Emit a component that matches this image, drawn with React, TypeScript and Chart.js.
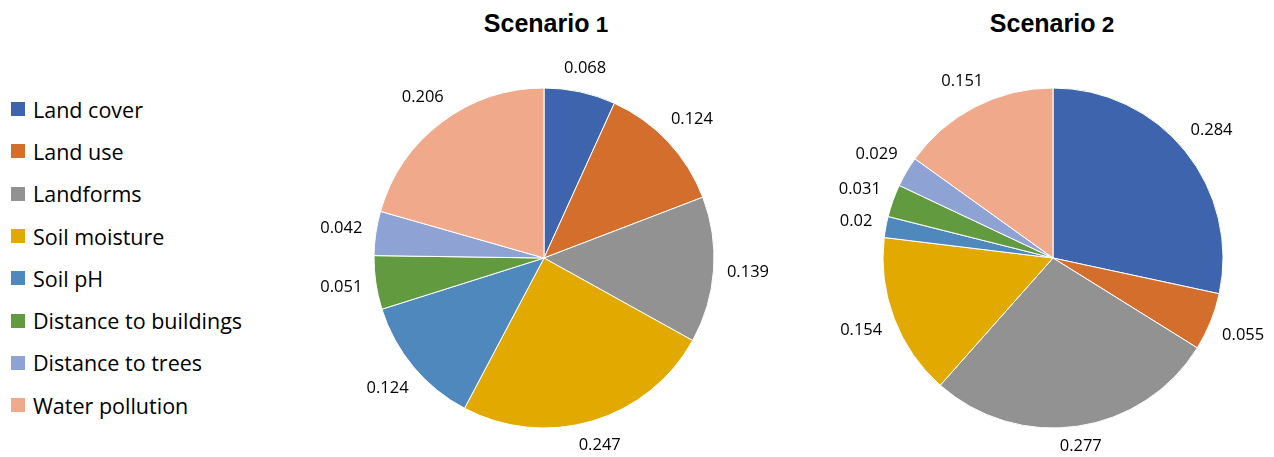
import React, { useEffect, useRef } from "react";
import { Chart, registerables } from "chart.js";

Chart.register(...registerables);

const categories = [
  "Land cover",
  "Land use",
  "Landforms",
  "Soil moisture",
  "Soil pH",
  "Distance to buildings",
  "Distance to trees",
  "Water pollution",
];
const scenario1Values = [0.068, 0.124, 0.139, 0.247, 0.124, 0.051, 0.042, 0.206];
const scenario2Values = [0.284, 0.055, 0.277, 0.154, 0.02, 0.031, 0.029, 0.151];
const scenarioNames = ["Scenario", "Scenario"];
const scenarioNumbers = ["1", "2"];
const sliceColors = [
  "#3D64AD",
  "#D46E2C",
  "#929292",
  "#E2AA00",
  "#4E88BC",
  "#629B3F",
  "#8FA2D4",
  "#F0A98B",
];

const LABEL_FONT = "16.5px 'Open Sans'";

const outsideLabels = {
  id: "outsideLabels",
  afterDatasetsDraw(chart: any) {
    const ctx = chart.ctx;
    const meta = chart.getDatasetMeta(0);
    const values = chart.data.datasets[0].data;
    ctx.save();
    ctx.font = LABEL_FONT;
    ctx.fillStyle = "#000";
    ctx.textAlign = "center";
    ctx.textBaseline = "middle";
    meta.data.forEach((arc: any, i: number) => {
      const p = arc.getProps(["x", "y", "startAngle", "endAngle", "outerRadius"], true);
      const mid = (p.startAngle + p.endAngle) / 2;
      const text = String(values[i]);
      const w = ctx.measureText(text).width;
      const h = 14;
      const c = Math.cos(mid);
      const s = Math.sin(mid);
      const r = p.outerRadius + 13 + Math.abs(c) * (w / 2) + Math.abs(s) * (h / 2);
      const x = p.x + c * r;
      const y = Math.min(p.y + s * r, chart.height - 32);
      ctx.fillText(text, x, y);
    });
    ctx.restore();
  },
};

function PieChart({ values, left }: { values: number[]; left: number }) {
  const ref = useRef<HTMLCanvasElement>(null);
  useEffect(() => {
    if (!ref.current) return;
    const chart = new Chart(ref.current, {
      type: "pie",
      data: {
        labels: categories,
        datasets: [
          {
            data: values,
            backgroundColor: sliceColors,
            borderColor: "#ffffff",
            borderWidth: 1,
          },
        ],
      },
      options: {
        responsive: false,
        maintainAspectRatio: false,
        animation: false,
        layout: { padding: { top: 49.5, bottom: 49.5, left: 59.5, right: 59.5 } },
        plugins: {
          legend: { display: false },
          tooltip: { enabled: false },
          title: { display: false },
        },
      },
      plugins: [outsideLabels],
    });
    return () => chart.destroy();
  }, [values]);
  return (
    <canvas
      ref={ref}
      width={460}
      height={440}
      style={{ position: "absolute", left, top: 38, width: 460, height: 440 }}
    />
  );
}

function Title({ idx, center }: { idx: number; center: number }) {
  return (
    <div
      style={{
        position: "absolute",
        left: center - 150,
        width: 300,
        top: 11,
        textAlign: "center",
        fontFamily: "'Liberation Sans', Arial, sans-serif",
        fontWeight: "bold",
        fontSize: 25,
        lineHeight: "24px",
        color: "#000",
      }}
    >
      {scenarioNames[idx]}
      <span style={{ fontSize: 22.5 }}> {scenarioNumbers[idx]}</span>
    </div>
  );
}

export default function App() {
  return (
    <div
      style={{
        position: "fixed",
        left: 0,
        top: 0,
        width: 1274,
        height: 457,
        overflow: "hidden",
        background: "#fff",
      }}
    >
      <div style={{ position: "absolute", left: 11, top: 88 }}>
        {categories.map((c, i) => (
          <div
            key={c}
            style={{
              height: 42.3,
              display: "flex",
              alignItems: "center",
              fontFamily: "'Open Sans', sans-serif",
              fontSize: 21.5,
              color: "#000",
              whiteSpace: "nowrap",
            }}
          >
            <span
              style={{
                display: "inline-block",
                width: 14,
                height: 14,
                background: sliceColors[i],
                marginRight: 8,
              }}
            />
            <span>{c}</span>
          </div>
        ))}
      </div>
      <Title idx={0} center={546} />
      <Title idx={1} center={1052} />
      <PieChart values={scenario1Values} left={314} />
      <PieChart values={scenario2Values} left={823} />
    </div>
  );
}
